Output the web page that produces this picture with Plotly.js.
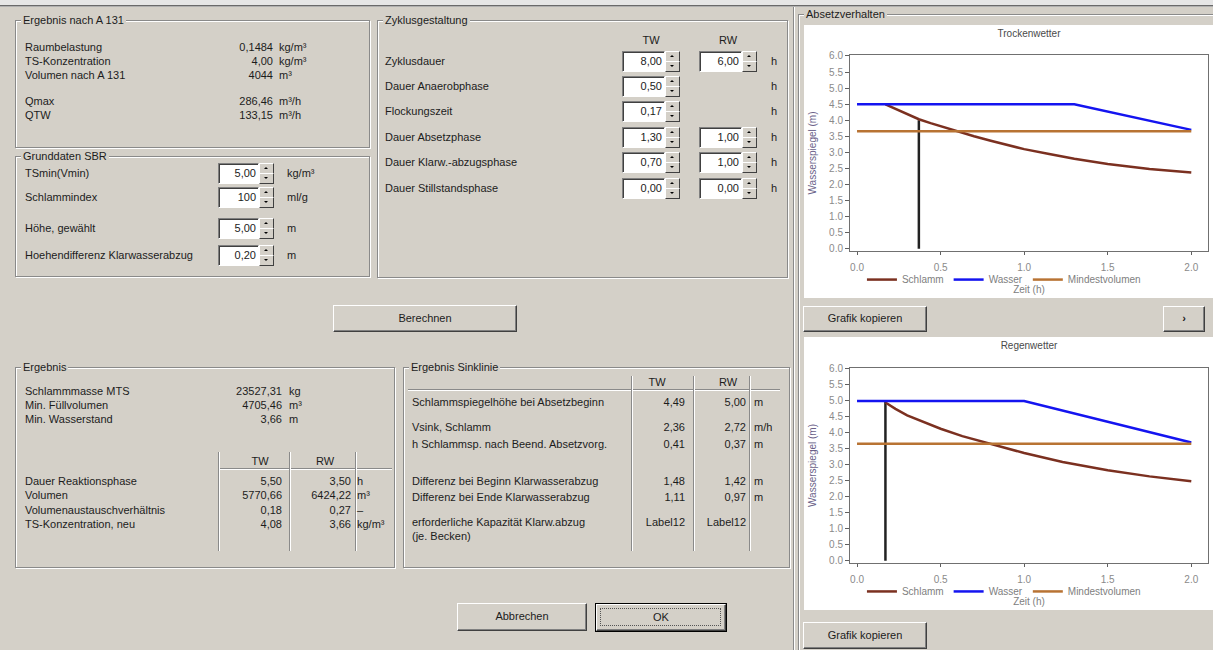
<!DOCTYPE html>
<html><head><meta charset="utf-8">
<script src="https://cdn.plot.ly/plotly-3.0.1.min.js"></script>
<style>
html,body{margin:0;padding:0}
body{width:1213px;height:650px;background:#d4d0c8;overflow:hidden;font-family:"Liberation Sans",Arial,sans-serif;font-size:11px;color:#1c1c1c;position:relative}
.a{position:absolute;white-space:nowrap;line-height:14px}
.grp{position:absolute;box-sizing:border-box;border:1px solid #8a8a8a;box-shadow:inset 1px 1px 0 #fff,1px 1px 0 #fff}
.gt{position:absolute;background:#d4d0c8;padding:0 2px;line-height:14px;white-space:nowrap}
.btn{position:absolute;box-sizing:border-box;background:#d4d0c8;border-top:1px solid #fff;border-left:1px solid #fff;border-right:1px solid #404040;border-bottom:1px solid #404040;box-shadow:inset -1px -1px 0 #808080;text-align:center;white-space:nowrap}
.ed{position:absolute;box-sizing:border-box;background:#fff;border-top:1px solid #808080;border-left:1px solid #808080;border-right:1px solid #fff;border-bottom:1px solid #fff;box-shadow:inset 1px 1px 0 #404040;text-align:right;padding-right:2px;line-height:18px}
.sb{position:absolute;box-sizing:border-box;background:#d4d0c8;border-top:1px solid #fff;border-left:1px solid #fff;border-right:1px solid #404040;border-bottom:1px solid #404040}
.up{position:absolute;left:4px;top:3px;width:0;height:0;border-left:2px solid transparent;border-right:2px solid transparent;border-bottom:2px solid #000}
.dn{position:absolute;left:4px;top:3px;width:0;height:0;border-left:2px solid transparent;border-right:2px solid transparent;border-top:2px solid #000}
.hl{position:absolute;height:1px;background:#8a8a8a;box-shadow:0 1px 0 #fff}
.vl{position:absolute;width:1px;background:#8a8a8a;box-shadow:1px 0 0 #fff}
.chart{position:absolute;background:#fff}
</style></head><body>
<div id="tw" class="chart" style="left:804px;top:25px;width:409px;height:273px"></div>
<div id="rw" class="chart" style="left:804px;top:337px;width:409px;height:273px"></div>
<script>
// ---------- chart data ----------
const schlammTW_t=[0.17,0.22,0.27,0.32,0.37,0.44,0.52,0.6,0.7,0.8,0.9,1.0,1.15,1.3,1.5,1.75,2.0];
const schlammTW_h=[4.49,4.37,4.25,4.14,4.03,3.91,3.78,3.65,3.5,3.36,3.22,3.1,2.95,2.8,2.64,2.48,2.37];
const wasserTW_t=[0,1.3,2.0];
const wasserTW_h=[4.5,4.5,3.7];
const mindestTW_t=[0,2.0];
const mindestTW_h=[3.66,3.66];
const absetzTW_t=[0.37,0.37];
const absetzTW_h=[0,4.0];

const schlammRW_t=[0.17,0.23,0.3,0.4,0.5,0.63,0.79,1.0,1.23,1.5,1.75,2.0];
const schlammRW_h=[4.95,4.75,4.55,4.33,4.13,3.9,3.67,3.37,3.09,2.83,2.64,2.49];
const wasserRW_t=[0,1.0,2.0];
const wasserRW_h=[5.0,5.0,3.7];
const mindestRW_t=[0,2.0];
const mindestRW_h=[3.66,3.66];
const absetzRW_t=[0.17,0.17];
const absetzRW_h=[0,5.0];

const seriesNames=['Schlamm','Wasser','Mindestvolumen'];
const seriesColors=['#7b3020','#1414f0','#b87333'];

// ---------- dialog helpers ----------
function el(cls,x,y,w,h,html,style){const d=document.createElement('div');d.className=cls;d.style.left=x+'px';d.style.top=y+'px';if(w!=null)d.style.width=w+'px';if(h!=null)d.style.height=h+'px';if(html!=null)d.innerHTML=html;if(style)d.style.cssText+=style;document.body.appendChild(d);return d;}
function txt(s,x,y){return el('a',x,y-7,null,null,s);}
function rtxt(s,xr,y){return el('a',xr-120,y-7,120,null,s,'text-align:right');}
function ctxt(s,xc,y){return el('a',xc-40,y-7,80,null,s,'text-align:center');}
function group(x,y,w,h,t){el('grp',x,y,w,h);el('gt',x+6,y-7,null,null,t);}
function spin(x,y,w,v){el('ed',x,y,w,21,v);const s=el('sb',x+w,y,15,11);s.innerHTML='<div class="up"></div>';const t=el('sb',x+w,y+10,15,11);t.innerHTML='<div class="dn"></div>';}
function btn(x,y,w,h,t,def){const b=el('btn',x,y,w,h,t,'line-height:'+(h-3)+'px');if(def){b.style.outline='1px solid #000';b.style.outlineOffset='0px';}return b;}
function hl(x1,x2,y){el('hl',x1,y,x2-x1,null);}
function vl(x,y1,y2){el('vl',x,y1,null,y2-y1);}

// top strip
el('a',0,0,1213,5,null,'background:#e6e6e6');
el('a',0,5,1213,1,null,'background:#6a6a6a');
el('a',0,6,1213,1,null,'background:#b0b0b0');

// Ergebnis nach A 131
group(15,20,355,128,'Ergebnis nach A 131');
[['Raumbelastung','0,1484','kg/m³',47],['TS-Konzentration','4,00','kg/m³',61],['Volumen nach A 131','4044','m³',75],['Qmax','286,46','m³/h',101],['QTW','133,15','m³/h',115]].forEach(r=>{txt(r[0],25,r[3]);rtxt(r[1],273,r[3]);txt(r[2],279,r[3]);});

// Grunddaten SBR
group(15,156,355,121,'Grunddaten SBR');
[['TSmin(Vmin)','5,00','kg/m³',173],['Schlammindex','100','ml/g',197],['Höhe, gewählt','5,00','m',228],['Hoehendifferenz Klarwasserabzug','0,20','m',255]].forEach(r=>{txt(r[0],25,r[3]);spin(218,r[3]-10,41,r[1]);txt(r[2],287,r[3]);});

// Zyklusgestaltung
group(377,20,411,258,'Zyklusgestaltung');
ctxt('TW',651,40);ctxt('RW',728,40);
[['Zyklusdauer','8,00','6,00',61],['Dauer Anaerobphase','0,50',null,86],['Flockungszeit','0,17',null,111],['Dauer Absetzphase','1,30','1,00',137],['Dauer Klarw.-abzugsphase','0,70','1,00',162],['Dauer Stillstandsphase','0,00','0,00',188]].forEach(r=>{txt(r[0],385,r[3]);spin(622,r[3]-10,43,r[1]);if(r[2])spin(699,r[3]-10,43,r[2]);txt('h',771,r[3]);});

btn(333,305,184,27,'Berechnen');

// Ergebnis
group(15,367,380,201,'Ergebnis');
[['Schlammmasse MTS','23527,31','kg',391],['Min. Füllvolumen','4705,46','m³',405],['Min. Wasserstand','3,66','m',419]].forEach(r=>{txt(r[0],25,r[3]);rtxt(r[1],282,r[3]);txt(r[2],289,r[3]);});
ctxt('TW',260,461);ctxt('RW',325,461);
hl(218,392,468);vl(218,452,551);vl(289,452,551);vl(355,452,551);
[['Dauer Reaktionsphase','5,50','3,50','h',481],['Volumen','5770,66','6424,22','m³',495],['Volumenaustauschverhältnis','0,18','0,27','–',510],['TS-Konzentration, neu','4,08','3,66','kg/m³',524]].forEach(r=>{txt(r[0],25,r[4]);rtxt(r[1],282,r[4]);rtxt(r[2],351,r[4]);txt(r[3],357,r[4]);});

// Ergebnis Sinklinie
group(403,367,387,201,'Ergebnis Sinklinie');
ctxt('TW',657,382);ctxt('RW',728,382);
hl(408,780,389);vl(631,376,551);vl(693,376,551);vl(749,376,551);
[['Schlammspiegelhöhe bei Absetzbeginn','4,49','5,00','m',402],['Vsink, Schlamm','2,36','2,72','m/h',427],['h Schlammsp. nach Beend. Absetzvorg.','0,41','0,37','m',444],['Differenz bei Beginn Klarwasserabzug','1,48','1,42','m',481],['Differenz bei Ende Klarwasserabzug','1,11','0,97','m',497],['erforderliche Kapazität Klarw.abzug','Label12','Label12','',522]].forEach(r=>{txt(r[0],412,r[4]);rtxt(r[1],685,r[4]);rtxt(r[2],746,r[4]);txt(r[3],754,r[4]);});
txt('(je. Becken)',412,536);

btn(457,603,130,28,'Abbrechen');
const ok=btn(596,604,130,27,'OK',true);
ok.innerHTML='<div style="position:absolute;left:3px;top:3px;right:4px;bottom:4px;border:1px dotted #555"></div>OK';

// right panel
vl(793,7,650);
group(798,14,430,660,'Absetzverhalten');
btn(803,306,124,26,'Grafik kopieren');
btn(1163,306,42,26,'<b>›</b>');
btn(803,622,124,27,'Grafik kopieren');
document.getElementById('tw').style.zIndex=5;document.getElementById('rw').style.zIndex=5;

// ---------- charts ----------
function mkLayout(title,top){
  return {
    width:409,height:273,
    margin:{l:46,r:5,t:top,b:46},
    paper_bgcolor:'#fff',plot_bgcolor:'#fff',
    font:{family:'Liberation Sans, Arial, sans-serif',size:10,color:'#808080'},
    title:{text:title,x:0.5,xref:'paper',xanchor:'center',y:1-8/273,yref:'container',yanchor:'middle',font:{size:10,color:'#4a4a4a'}},
    showlegend:true,
    legend:{orientation:'h',x:0.43,xanchor:'center',y:-0.14,yanchor:'middle',font:{size:10,color:'#808080'},itemwidth:30,bgcolor:'rgba(0,0,0,0)',tracegroupgap:0},
    xaxis:{range:[-0.042,2.1],tick0:0,dtick:0.5,tickformat:'.1f',ticks:'outside',ticklen:3,tickcolor:'#606060',ticklabelstandoff:4,
      showline:true,linecolor:'#707070',linewidth:1,mirror:true,showgrid:false,zeroline:false,
      title:{text:'Zeit (h)',standoff:13,font:{size:10,color:'#808080'}},tickfont:{size:10,color:'#8a8a8a'}},
    yaxis:{range:[-0.07,6.03],tick0:0,dtick:0.5,tickformat:'.1f',ticks:'outside',ticklen:4,tickcolor:'#606060',
      showline:true,linecolor:'#707070',linewidth:1,mirror:true,showgrid:false,zeroline:false,
      title:{text:'Wasserspiegel (m)',standoff:10,font:{size:10,color:'#6a5f88'}},tickfont:{size:10,color:'#8a8a8a'}}
  };
}
function mkTraces(s,w,m,a){
  return [
    {x:a[0],y:a[1],mode:'lines',line:{color:'#222',width:2.5},showlegend:false,hoverinfo:'skip'},
    {x:s[0],y:s[1],mode:'lines',name:seriesNames[0],line:{color:seriesColors[0],width:2.5}},
    {x:w[0],y:w[1],mode:'lines',name:seriesNames[1],line:{color:seriesColors[1],width:2.5}},
    {x:m[0],y:m[1],mode:'lines',name:seriesNames[2],line:{color:seriesColors[2],width:2.5}}
  ];
}
const cfg={displayModeBar:false,staticPlot:true};
Plotly.newPlot('tw',mkTraces([schlammTW_t,schlammTW_h],[wasserTW_t,wasserTW_h],[mindestTW_t,mindestTW_h],[absetzTW_t,absetzTW_h]),mkLayout('Trockenwetter',30),cfg);
Plotly.newPlot('rw',mkTraces([schlammRW_t,schlammRW_h],[wasserRW_t,wasserRW_h],[mindestRW_t,mindestRW_h],[absetzRW_t,absetzRW_h]),mkLayout('Regenwetter',31),cfg);
</script>
</body></html>
